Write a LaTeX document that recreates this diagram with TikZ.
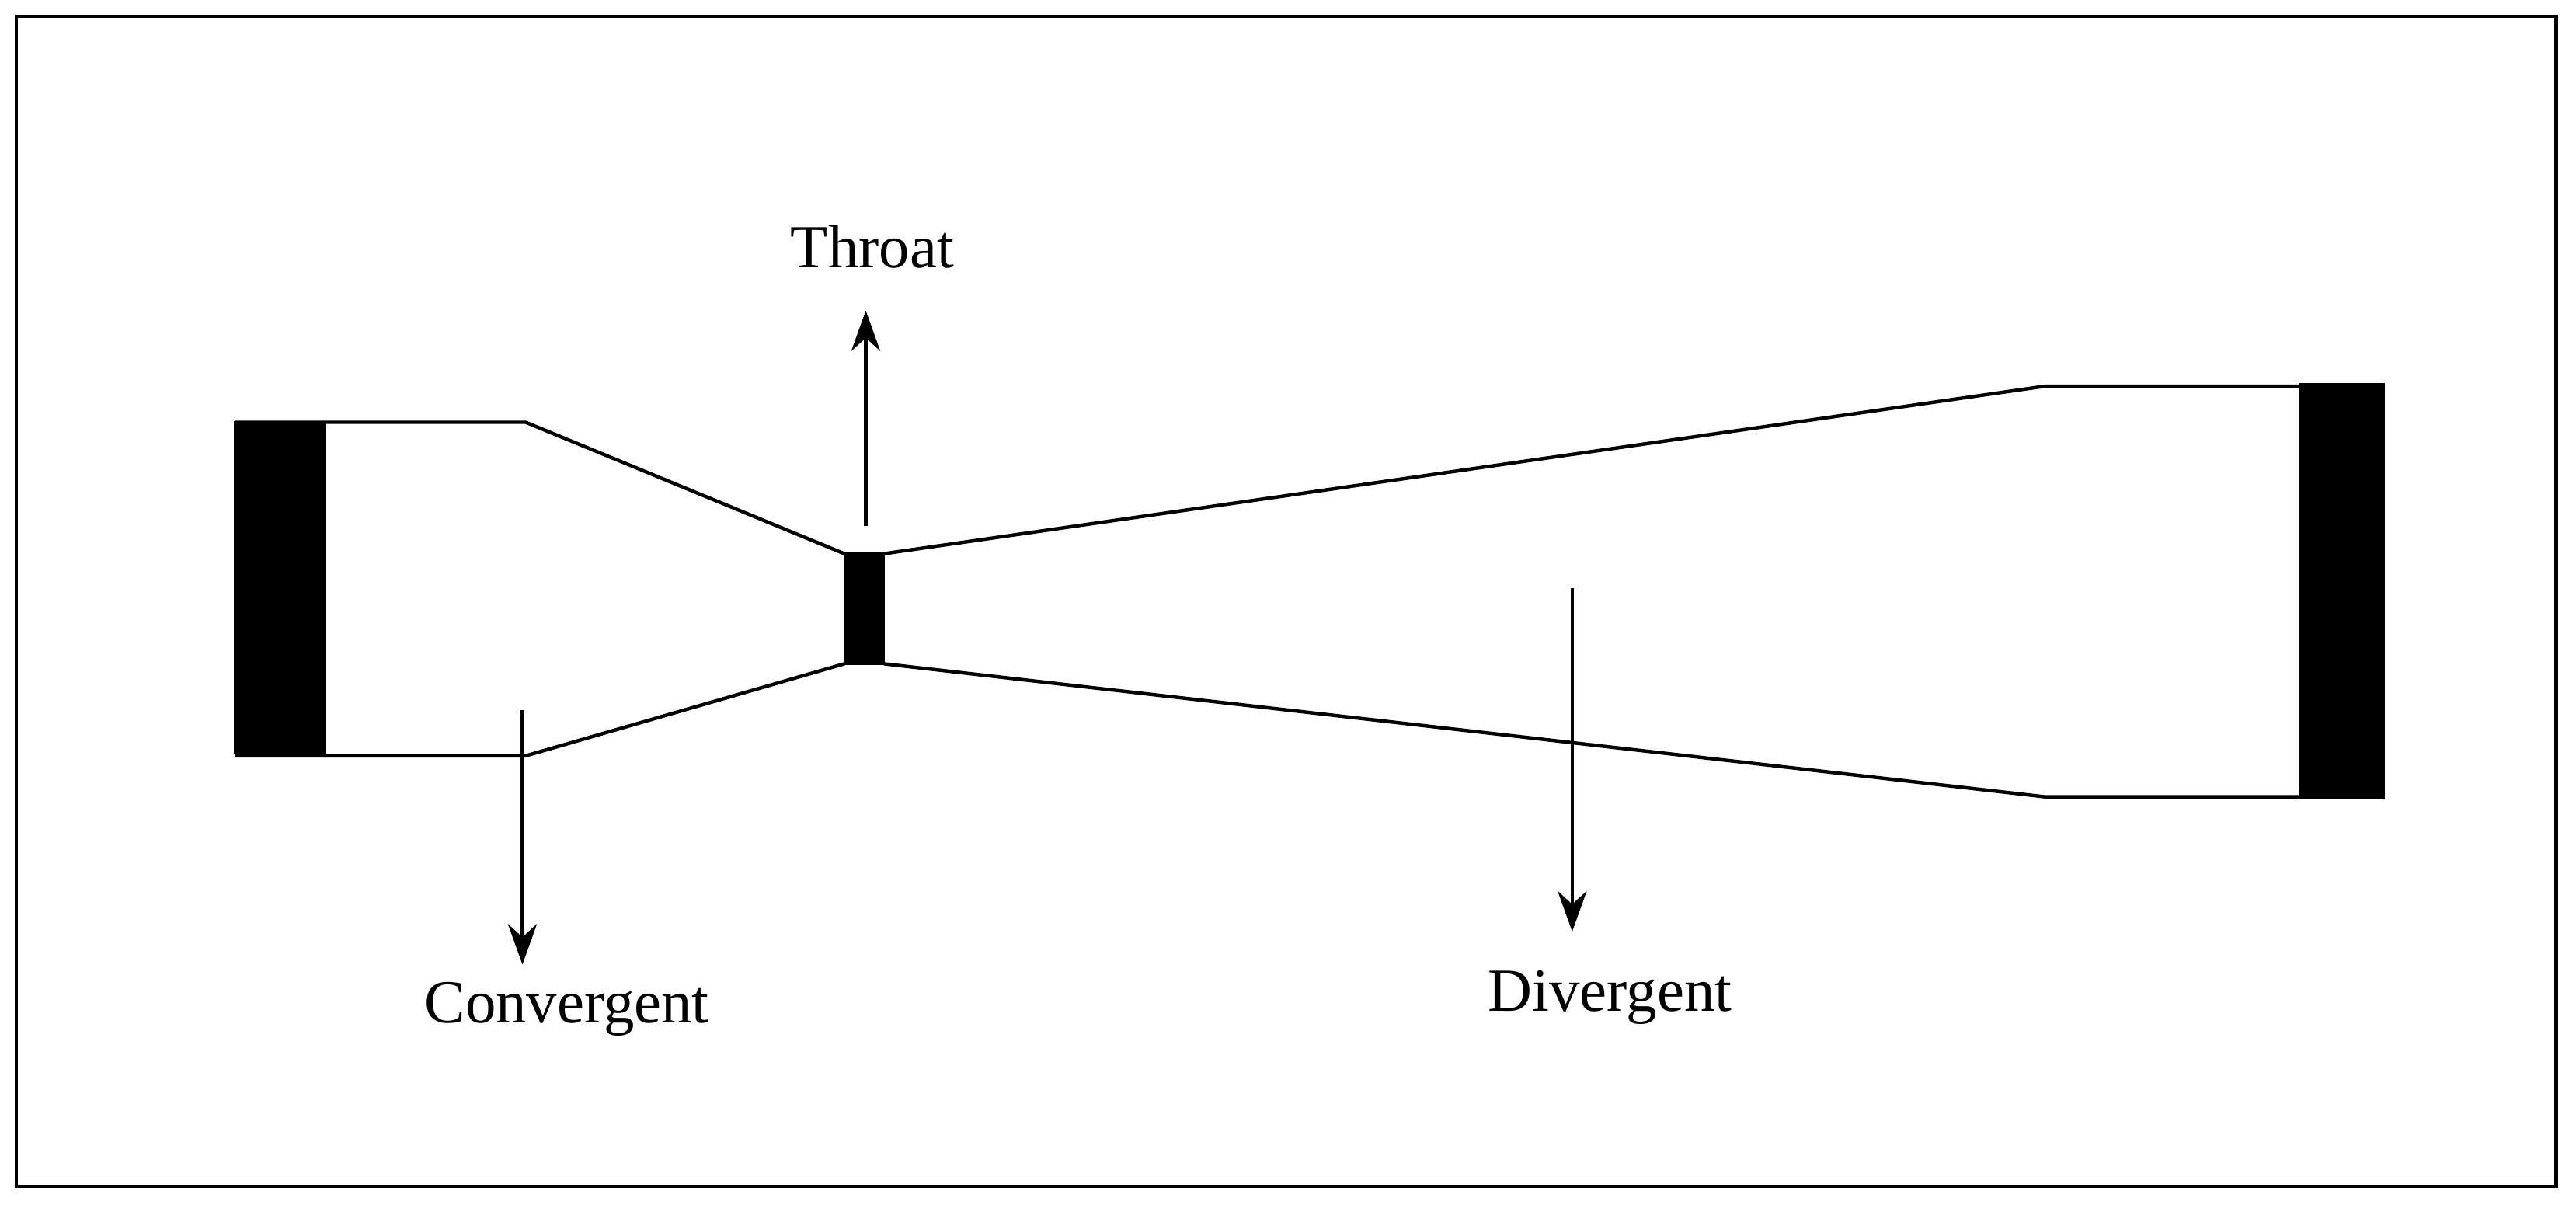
\documentclass[tikz,border=0pt]{standalone}
\usepackage{fontspec}
\setmainfont{Liberation Serif}
\usetikzlibrary{arrows.meta}
\begin{document}
\begin{tikzpicture}[x=0.01cm,y=-0.01cm,
  wall/.style={line width=0.6pt},
  blk/.style={fill=black,draw=black},
  arr/.style={line width=0.6pt,-{Stealth[length=7pt,width=5pt]}},
  lbl/.style={font=\fontsize{10.6pt}{12pt}\selectfont,inner sep=0pt}]
\useasboundingbox (0,0) rectangle (1568,733);
\draw[line width=0.6pt] (10,10) rectangle (1556,722);
% blocks
\fill[blk] (143,257) rectangle (198,458);
\fill[blk] (514,337) rectangle (538,404);
\fill[blk] (1400,234) rectangle (1451,486);
% walls
\draw[wall] (143,257) -- (320,257) -- (514,337);
\draw[wall] (143,460) -- (320,460) -- (514,404);
\draw[wall] (538,337) -- (1245,235) -- (1400,235);
\draw[wall] (538,404) -- (1245,485) -- (1400,485);
% labels
\node[lbl] (thr) at (531,150) {Throat};
\node[lbl] (con) at (345,614) {Convergent};
\node[lbl] (div) at (980,607) {Divergent};
\coordinate (t0) at (527,320); \coordinate (t1) at (527,189);
\coordinate (c0) at (318,432); \coordinate (c1) at (318,587);
\coordinate (d0) at (957,358); \coordinate (d1) at (957,567);
\draw[arr] (t0) -- (t1);
\draw[arr] (c0) -- (c1);
\draw[arr] (d0) -- (d1);
\end{tikzpicture}
\end{document}
